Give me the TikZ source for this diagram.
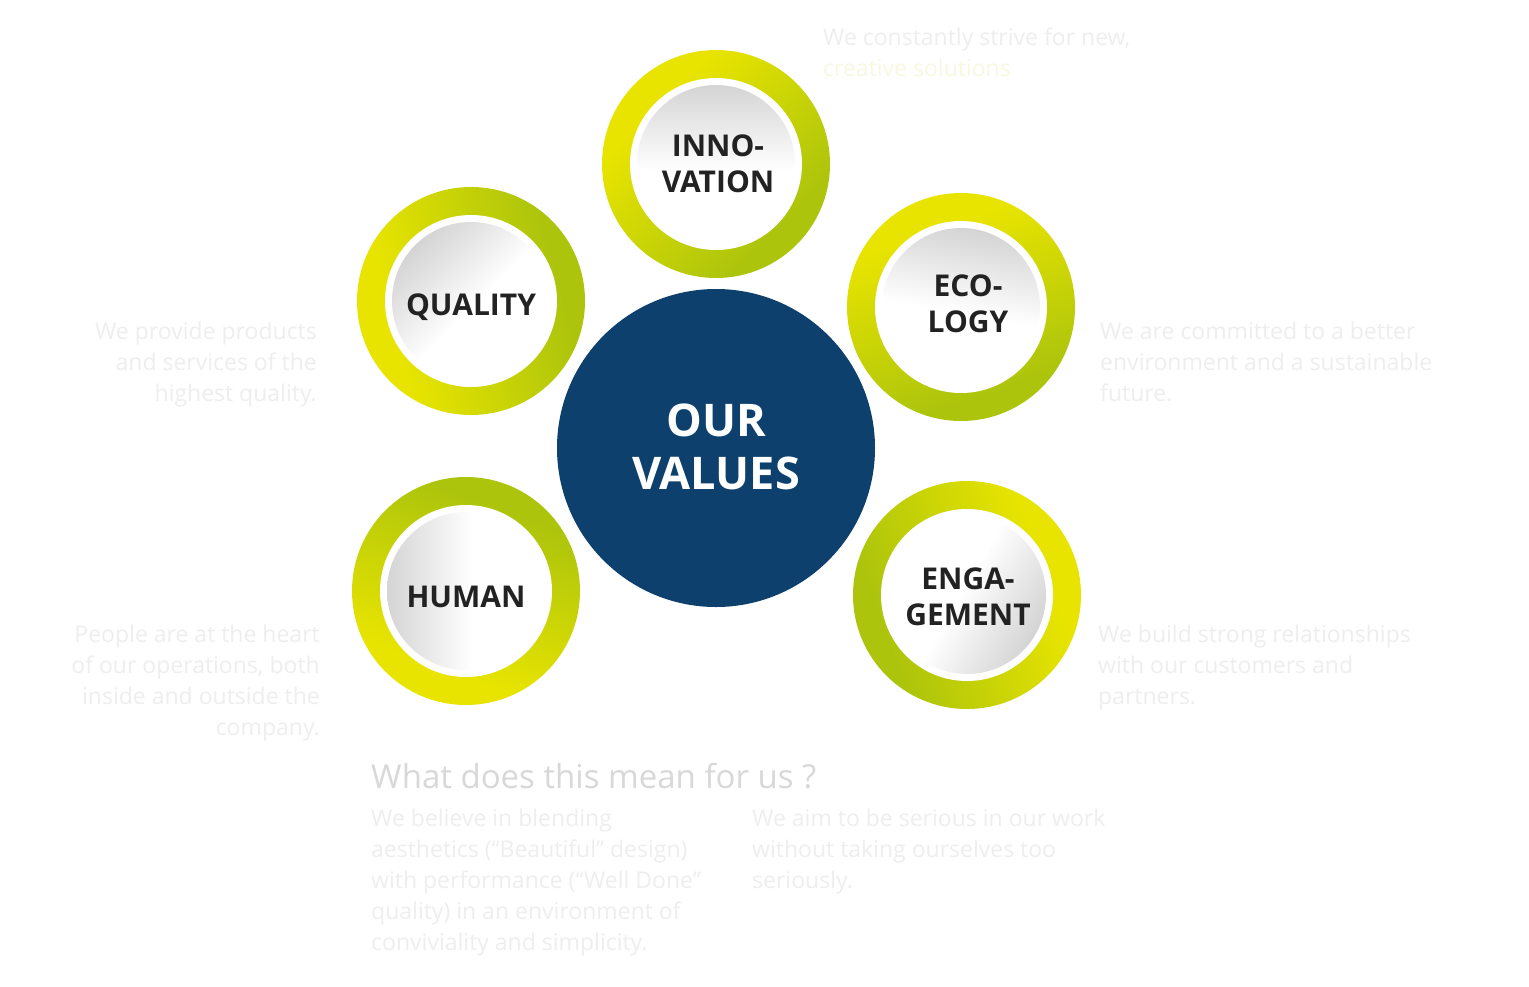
\documentclass[tikz,border=0pt]{standalone}
\usepackage{fontspec}
\setmainfont{Open Sans}
\newfontfamily\labfont{Open Sans}
\definecolor{ringY}{RGB}{232,228,0}
\definecolor{ringG}{RGB}{172,196,12}
\definecolor{diskG}{RGB}{212,212,212}
\definecolor{navy}{RGB}{13,64,109}
\definecolor{labelc}{RGB}{34,34,34}
\definecolor{faint}{RGB}{238,238,238}
\definecolor{faintY}{RGB}{248,248,226}
\definecolor{headc}{RGB}{216,216,216}
\pgfdeclarehorizontalshading{ringshade}{100bp}{color(0bp)=(ringY); color(32bp)=(ringY); color(70bp)=(ringG); color(100bp)=(ringG)}
\pgfdeclarehorizontalshading{diskshade}{100bp}{color(0bp)=(diskG); color(25bp)=(diskG); color(52bp)=(white); color(100bp)=(white)}
\newcommand\valring[3]{%
  \shade[shading=ringshade, shading angle=#2] (#1) circle[radius=114pt];
  \fill[white] (#1) circle[radius=86pt];
  \shade[shading=diskshade, shading angle=#3] (#1) circle[radius=79pt];
}
\begin{document}
\begin{tikzpicture}[x=1pt,y=-1pt,
  lab/.style={inner sep=0pt, text=labelc, align=center, font=\labfont\bfseries\fontsize{30}{36}\selectfont},
  desc/.style={inner sep=0pt, text=faint, font=\fontsize{23}{31}\selectfont}]
\path[use as bounding box, fill=white] (0,0) rectangle (1529,986);

% centre
\coordinate (ourC) at (716,448);
\fill[navy] (ourC) circle[radius=159pt];
\node[inner sep=0pt, text=white, align=center, font=\labfont\bfseries\fontsize{45}{53}\selectfont] (our) at (716,447) {OUR\\VALUES};

% value circles
\coordinate (innoC) at (716,164);
\coordinate (qualC) at (471,301);
\coordinate (ecoC) at (961,307);
\coordinate (humC) at (466,591);
\coordinate (engC) at (967,595);
\valring{innoC}{-45}{-90}
\valring{qualC}{15}{-45}
\valring{ecoC}{-70}{-100}
\valring{humC}{70}{0}
\valring{engC}{200}{150}

\node[lab] (inno) at (718,164) {INNO-\\VATION};
\node[lab, anchor=base] (qual) at (471,315) {QUALITY};
\node[lab] (eco) at (968,304) {ECO-\\LOGY};
\node[lab, anchor=base] (hum) at (466,607) {HUMAN};
\node[lab] (eng) at (968,597) {ENGA-\\GEMENT};

% descriptions
\node[desc, anchor=north west, align=left] (innotxt) at (823,28) {We constantly strive for new,\\{\color{faintY}creative solutions}};
\node[desc, anchor=north east, align=right] (qualtxt) at (317,322) {We provide products\\and services of the\\highest quality.};
\node[desc, anchor=north west, align=left] (ecotxt) at (1100,322) {We are committed to a better\\environment and a sustainable\\future.};
\node[desc, anchor=north east, align=right] (humtxt) at (320,625) {People are at the heart\\of our operations, both\\inside and outside the\\company.};
\node[desc, anchor=north west, align=left] (engtxt) at (1098,625) {We build strong relationships\\with our customers and\\partners.};

% bottom
\node[inner sep=0pt, anchor=base west, text=headc, font=\fontsize{33}{38}\selectfont] (head) at (371,788) {What does this mean for us ?};
\node[desc, anchor=north west, align=left] (para1) at (371,809) {We believe in blending\\aesthetics (“Beautiful” design)\\with performance (“Well Done”\\quality) in an environment of\\conviviality and simplicity.};
\node[desc, anchor=north west, align=left] (para2) at (752,809) {We aim to be serious in our work\\without taking ourselves too\\seriously.};
\end{tikzpicture}
\end{document}
